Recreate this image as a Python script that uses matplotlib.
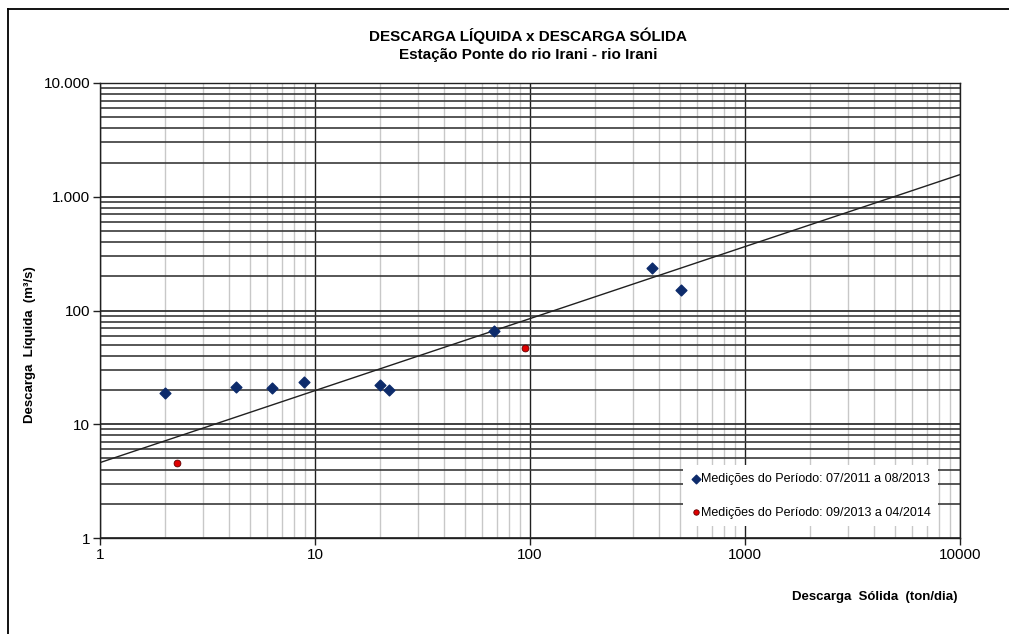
import matplotlib
matplotlib.use("Agg")
import matplotlib.pyplot as plt
import numpy as np
from matplotlib.lines import Line2D
from matplotlib.ticker import FixedLocator, LogLocator, NullFormatter

plt.rcParams['font.family'] = ['Liberation Sans', 'DejaVu Sans']

# Measurements 07/2011 - 08/2013
solid_a = [2.0, 4.3, 6.3, 8.9, 20.1, 22.1, 68, 369, 504]
liquid_a = [18.8, 21.2, 20.8, 23.5, 22.1, 20.0, 66, 236, 151]

# Measurements 09/2013 - 04/2014
solid_b = [2.28, 94.8]
liquid_b = [4.56, 46.8]

# Rating curve Q = a * Qs^b
curve_a = 4.6
curve_b = 0.633

x_ticks = [1, 10, 100, 1000, 10000]
x_labels = ["1", "10", "100", "1000", "10000"]
y_ticks = [1, 10, 100, 1000, 10000]
y_labels = ["1", "10", "100", "1.000", "10.000"]

fig = plt.figure(figsize=(10.09, 6.34), dpi=100)
ax = fig.add_axes([100 / 1009, 1 - 538 / 634, 860 / 1009, 455 / 634])
ax.set_xscale('log')
ax.set_yscale('log')
ax.set_xlim(1, 10000)
ax.set_ylim(1, 10000)

# grid
ax.xaxis.set_minor_locator(LogLocator(base=10, subs=np.arange(2, 10)))
ax.yaxis.set_minor_locator(LogLocator(base=10, subs=np.arange(2, 10)))
ax.xaxis.set_minor_formatter(NullFormatter())
ax.yaxis.set_minor_formatter(NullFormatter())
ax.grid(which='major', axis='x', color='#202020', linewidth=1.0)
ax.grid(which='minor', axis='x', color='#c8c8c8', linewidth=1.0)
ax.grid(which='major', axis='y', color='#303030', linewidth=1.3)
ax.grid(which='minor', axis='y', color='#3a3a3a', linewidth=1.2)
ax.set_axisbelow(True)

ax.xaxis.set_major_locator(FixedLocator(x_ticks))
ax.set_xticklabels(x_labels, fontsize=11)
ax.yaxis.set_major_locator(FixedLocator(y_ticks))
ax.set_yticklabels(y_labels, fontsize=11)
ax.tick_params(which='major', length=5, width=1, color='#202020', pad=2)
ax.tick_params(which='minor', length=0)
for sp in ax.spines.values():
    sp.set_color('#202020')
    sp.set_linewidth(1.0)

# rating curve
xc = np.logspace(0, 4, 200)
ax.plot(xc, curve_a * xc ** curve_b, color='#202020', linewidth=1.0, zorder=3)

ax.scatter(solid_a, liquid_a, marker='D', s=30, color='#0d2b6b',
           edgecolors='#0d2b6b', zorder=4,
           label='Medições do Período: 07/2011 a 08/2013')
ax.scatter(solid_b, liquid_b, marker='o', s=24, color='#e00000',
           edgecolors='#600000', linewidths=0.6, zorder=4,
           label='Medições do Período: 09/2013 a 04/2014')

leg = ax.legend(loc='lower left', bbox_to_anchor=(0.678, 0.026), frameon=True,
                facecolor='white', edgecolor='none', framealpha=1.0,
                fontsize=9, handletextpad=0.0, handlelength=0.8,
                labelspacing=1.75, borderpad=0.6, markerscale=0.8,
                borderaxespad=0.0, fancybox=False)
leg.set_zorder(5)

fig.text(528 / 1009, 1 - 36 / 634, 'DESCARGA LÍQUIDA x DESCARGA SÓLIDA',
         ha='center', va='center', fontsize=11, fontweight='bold')
fig.text(528 / 1009, 1 - 55 / 634, 'Estação Ponte do rio Irani - rio Irani',
         ha='center', va='center', fontsize=11, fontweight='bold')
fig.text(30 / 1009, 1 - 345 / 634, 'Descarga  Líquida  (m³/s)', rotation=90,
         ha='center', va='center', fontsize=9.5, fontweight='bold')
fig.text(957 / 1009, 1 - 597 / 634, 'Descarga  Sólida  (ton/dia)',
         ha='right', va='center', fontsize=9.5, fontweight='bold')

# outer frame (top and left edges)
fig.add_artist(Line2D([8 / 1009, 1.0], [1 - 9 / 634, 1 - 9 / 634],
                      transform=fig.transFigure, color='black', linewidth=1.3))
fig.add_artist(Line2D([8 / 1009, 8 / 1009], [0.0, 1 - 9 / 634],
                      transform=fig.transFigure, color='black', linewidth=1.3))

fig.savefig('out.png', dpi=100)
